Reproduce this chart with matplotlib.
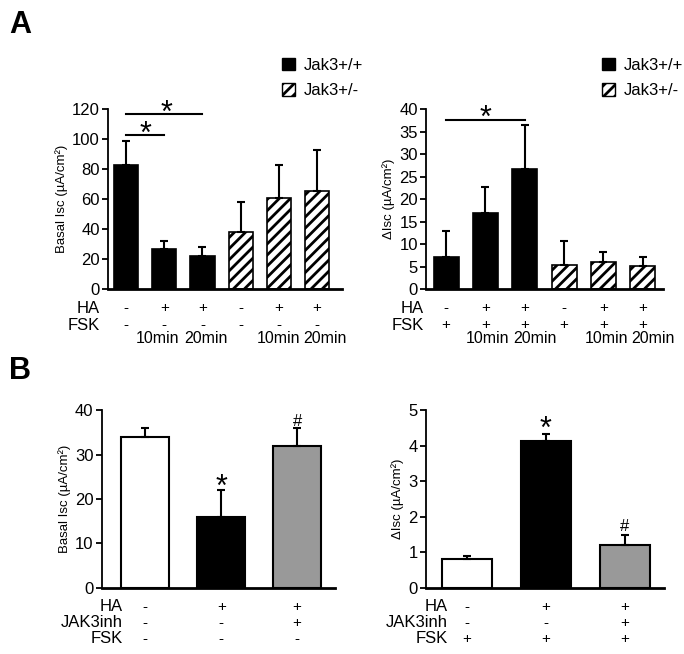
import matplotlib
matplotlib.use("Agg")
import matplotlib.pyplot as plt
from matplotlib.patches import Patch
import matplotlib.transforms as mtransforms

plt.rcParams['font.family'] = ['Liberation Sans', 'DejaVu Sans']
plt.rcParams['hatch.linewidth'] = 2.0

# panel A data
a_basal = [83, 27, 22, 38, 61, 65.5]
a_basal_err = [16, 5, 6, 20, 22, 27.5]
a_delta = [7.1, 17, 26.7, 5.3, 6.1, 5.1]
a_delta_err = [5.9, 5.8, 9.8, 5.5, 2.1, 2.0]
a_geno = ["wt", "wt", "wt", "het", "het", "het"]
a_ha = ["-", "+", "+", "-", "+", "+"]
a_fsk_left = ["-", "-", "-", "-", "-", "-"]
a_fsk_right = ["+", "+", "+", "+", "+", "+"]
a_time = ["", "10min", "20min", "", "10min", "20min"]

# panel B data
b_basal = [34, 16, 32]
b_basal_err = [2, 6, 4]
b_delta = [0.8, 4.12, 1.22]
b_delta_err = [0.1, 0.2, 0.28]
b_colors = ["white", "black", "#999999"]
b_ha = ["-", "+", "+"]
b_jak = ["-", "-", "+"]
b_fsk_left = ["-", "-", "-"]
b_fsk_right = ["+", "+", "+"]

fig = plt.figure(figsize=(6.84, 6.54), dpi=100)


def style_axis(ax):
    ax.spines['top'].set_visible(False)
    ax.spines['right'].set_visible(False)
    ax.spines['left'].set_linewidth(1.3)
    ax.spines['bottom'].set_linewidth(2)
    ax.set_xticks([])
    ax.tick_params(axis='y', direction='out', length=4, width=1.3, labelsize=12, pad=2)


def row_labels(ax, rows, ys, label_x):
    trans = mtransforms.blended_transform_factory(ax.transData, ax.transAxes)
    for (name, signs), y in zip(rows, ys):
        ax.text(label_x, y, name, transform=ax.transAxes, ha='right', va='center', fontsize=12)
        for i, s in enumerate(signs):
            ax.text(i, y, s, transform=trans, ha='center', va='center', fontsize=11)


def panel_a(ax, vals, errs, fsk, ylim, yticks, ylabel, xlim, label_x, time_shift):
    x = list(range(len(vals)))
    for i in x:
        if a_geno[i] == "wt":
            ax.bar(i, vals[i], width=0.63, color='black', edgecolor='black', linewidth=1.2)
        else:
            ax.bar(i, vals[i], width=0.63, color='white', edgecolor='black', hatch='///', linewidth=1.2)
    ax.errorbar(x, vals, yerr=[[0] * len(errs), errs], fmt='none', ecolor='black',
                elinewidth=1.5, capsize=3, capthick=1.5)
    ax.set_xlim(*xlim)
    ax.set_ylim(*ylim)
    ax.set_yticks(yticks)
    ax.set_ylabel(ylabel, fontsize=9.5, labelpad=3)
    style_axis(ax)
    row_labels(ax, [("HA", a_ha), ("FSK", fsk)], [-0.106, -0.2], label_x)
    trans = mtransforms.blended_transform_factory(ax.transData, ax.transAxes)
    for i, t in enumerate(a_time):
        if t:
            ax.text(i + time_shift[i], -0.275, t, transform=trans,
                    ha='center', va='center', fontsize=11.5)
    handles = [Patch(facecolor='black', edgecolor='black'),
               Patch(facecolor='white', edgecolor='black', hatch='///')]
    ax.legend(handles, ["Jak3+/+", "Jak3+/-"], frameon=False, loc='upper left',
              bbox_to_anchor=(0.68, 1.37), handlelength=0.8, handleheight=0.8,
              handletextpad=0.5, labelspacing=0.6, fontsize=12)


def panel_b(ax, vals, errs, fsk, ylim, yticks, ylabel, xlim, label_x):
    x = list(range(len(vals)))
    ax.bar(x, vals, width=0.63, color=b_colors, edgecolor='black', linewidth=1.5)
    ax.errorbar(x, vals, yerr=[[0] * len(errs), errs], fmt='none', ecolor='black',
                elinewidth=1.5, capsize=3, capthick=1.5)
    ax.set_xlim(*xlim)
    ax.set_ylim(*ylim)
    ax.set_yticks(yticks)
    ax.set_ylabel(ylabel, fontsize=9.5, labelpad=3)
    style_axis(ax)
    row_labels(ax, [("HA", b_ha), ("JAK3inh", b_jak), ("FSK", fsk)],
               [-0.107, -0.197, -0.287], label_x)


# A left
ax1 = fig.add_axes([0.158, 0.558, 0.342, 0.275])
panel_a(ax1, a_basal, a_basal_err, a_fsk_left, (0, 120), range(0, 121, 20),
        "Basal Isc (µA/cm²)", (-0.47, 5.65), -0.035,
        [0, -0.18, 0.08, 0, 0, 0.21])
ax1.plot([0, 2], [116.7, 116.7], color='black', lw=1.5, clip_on=False)
ax1.plot([0, 1], [102.7, 102.7], color='black', lw=1.5, clip_on=False)
ax1.text(1.05, 117, "*", ha='center', va='center', fontsize=22, clip_on=False)
ax1.text(0.5, 103, "*", ha='center', va='center', fontsize=22, clip_on=False)

# A right
ax2 = fig.add_axes([0.623, 0.558, 0.346, 0.275])
panel_a(ax2, a_delta, a_delta_err, a_fsk_right, (0, 40), range(0, 41, 5),
        "ΔIsc (µA/cm²)", (-0.51, 5.51), -0.01,
        [0, 0.05, 0.25, 0, 0.08, 0.25])
ax2.plot([0, 2], [37.6, 37.6], color='black', lw=1.5, clip_on=False)
ax2.text(1.0, 37.8, "*", ha='center', va='center', fontsize=22, clip_on=False)

# B left
ax3 = fig.add_axes([0.149, 0.101, 0.341, 0.272])
panel_b(ax3, b_basal, b_basal_err, b_fsk_left, (0, 40), range(0, 41, 10),
        "Basal Isc (µA/cm²)", (-0.57, 2.5), 0.09)
ax3.text(1, 22.5, "*", ha='center', va='center', fontsize=22)
ax3.text(2, 37.5, "#", ha='center', va='center', fontsize=12)

# B right
ax4 = fig.add_axes([0.623, 0.101, 0.348, 0.272])
panel_b(ax4, b_delta, b_delta_err, b_fsk_right, (0, 5), range(0, 6),
        "ΔIsc (µA/cm²)", (-0.52, 2.5), 0.09)
ax4.text(1, 4.45, "*", ha='center', va='center', fontsize=22)
ax4.text(2, 1.72, "#", ha='center', va='center', fontsize=12)

fig.text(0.013, 0.985, "A", fontsize=22, fontweight='bold', va='top')
fig.text(0.013, 0.455, "B", fontsize=22, fontweight='bold', va='top')

fig.savefig("out.png", dpi=100)
